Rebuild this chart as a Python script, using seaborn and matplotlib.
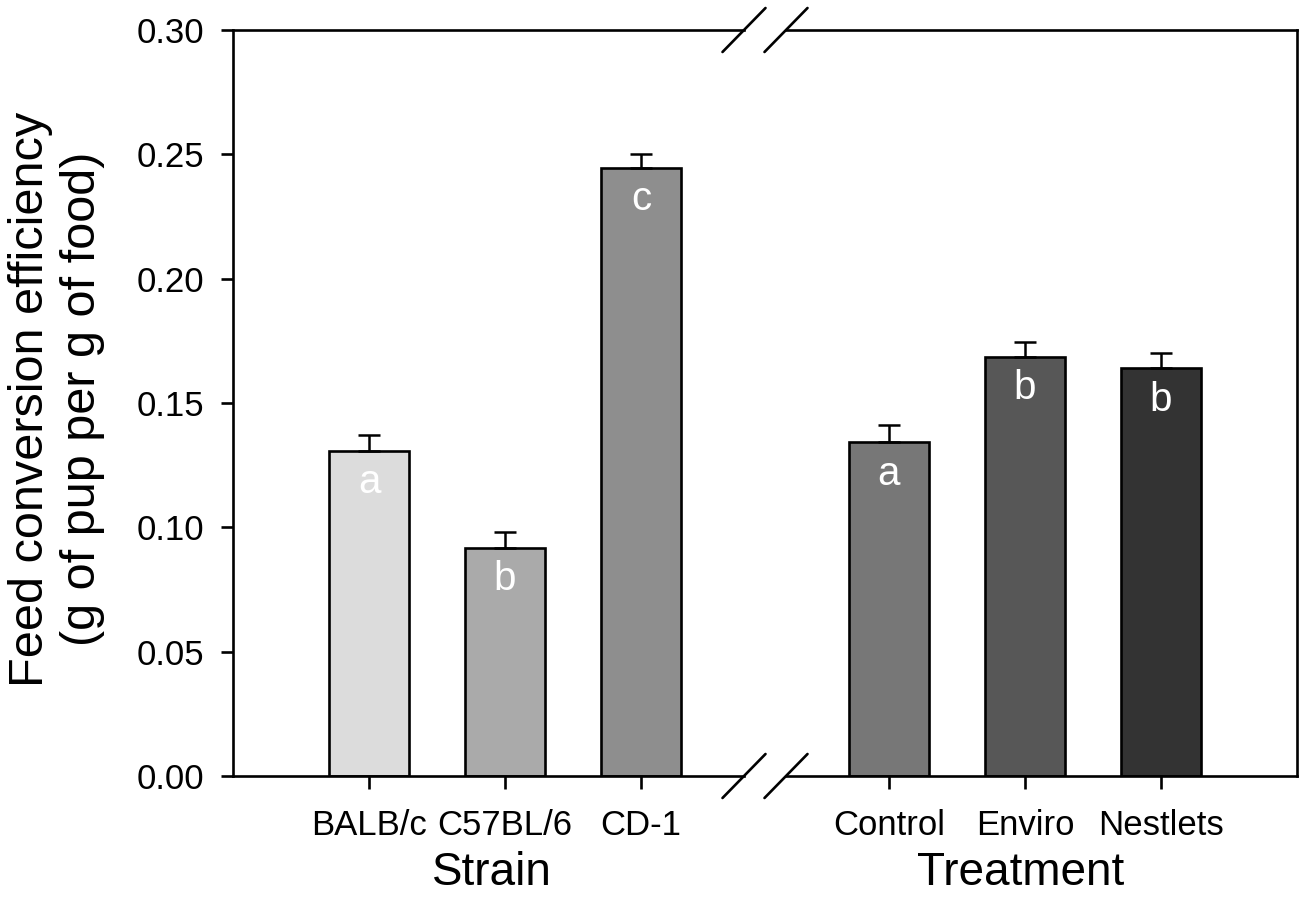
import numpy as np
import pandas as pd
import matplotlib
matplotlib.use('Agg')
import matplotlib.pyplot as plt
import seaborn as sns

# data
strains = ['BALB/c', 'C57BL/6', 'CD-1']
strain_fce = [0.1307, 0.0917, 0.2447]
strain_se = [0.0064, 0.0064, 0.0056]
strain_letters = ['a', 'b', 'c']
strain_colors = ['#dcdcdc', '#aaaaaa', '#8e8e8e']

treatments = ['Control', 'Enviro', 'Nestlets']
treat_fce = [0.1343, 0.1686, 0.1640]
treat_se = [0.0068, 0.0060, 0.0060]
treat_letters = ['a', 'b', 'b']
treat_colors = ['#777777', '#575757', '#333333']

yticks = [0.00, 0.05, 0.10, 0.15, 0.20, 0.25, 0.30]

sns.set_style('ticks')
plt.rcParams['font.family'] = ['Liberation Sans', 'DejaVu Sans']
plt.rcParams['axes.linewidth'] = 1.9
for key in ['text.color', 'axes.labelcolor', 'xtick.color', 'ytick.color', 'axes.edgecolor']:
    plt.rcParams[key] = 'black'

W, H = 1299, 917
fig = plt.figure(figsize=(W / 100, H / 100), dpi=100)
ax_l = fig.add_axes([233 / W, (H - 776) / H, (744 - 233) / W, 746 / H])
ax_r = fig.add_axes([786 / W, (H - 776) / H, (1297 - 786) / W, 746 / H])


def draw_panel(ax, cats, vals, errs, letters, colors):
    df = pd.DataFrame({'cat': cats, 'val': vals})
    sns.barplot(data=df, x='cat', y='val', hue='cat', palette=colors, legend=False,
                width=0.59, edgecolor='black', linewidth=1.9, errorbar=None,
                saturation=1, ax=ax)
    ax.errorbar(np.arange(len(cats)), vals, yerr=[np.zeros(len(vals)), errs],
                fmt='none', ecolor='black', elinewidth=1.8, capsize=8, capthick=1.8)
    for i, (v, lt) in enumerate(zip(vals, letters)):
        ax.annotate(lt, (i, v), xytext=(0, -9), textcoords='offset points',
                    ha='center', va='top', color='white', fontsize=29)
    ax.set_ylim(0, 0.30)
    ax.tick_params(axis='x', direction='out', length=9, width=1.9, pad=15, labelsize=25)
    ax.set_ylabel('')
    ax.set_xlabel('')


draw_panel(ax_l, strains, strain_fce, strain_se, strain_letters, strain_colors)
draw_panel(ax_r, treatments, treat_fce, treat_se, treat_letters, treat_colors)

ax_l.set_xlim(-1.0, 2.757)
ax_r.set_xlim(-0.757, 3.0)

ax_l.set_yticks(yticks)
ax_l.set_yticklabels([f'{t:.2f}' for t in yticks])
ax_l.tick_params(axis='y', direction='out', length=9, width=1.9, pad=12, labelsize=25)
ax_l.spines['right'].set_visible(False)
ax_r.spines['left'].set_visible(False)
ax_r.tick_params(axis='y', left=False, labelleft=False)

ax_l.set_ylabel('Feed conversion efficiency\n(g of pup per g of food)',
                fontsize=35, linespacing=1.2)
ax_l.yaxis.set_label_coords(-0.25, 0.505)

ax_l.set_xlabel('Strain', fontsize=33)
ax_l.xaxis.set_label_coords(0.507, -0.101)
ax_r.set_xlabel('Treatment', fontsize=33)
ax_r.xaxis.set_label_coords(0.46, -0.101)

# break marks on the x axis (top and bottom)
dx = 21.5 / 511
dy = 22 / 746
for ax, xe in [(ax_l, 1.0), (ax_r, 0.0)]:
    for ye in (0.0, 1.0):
        ax.plot([xe - dx, xe + dx], [ye - dy, ye + dy], transform=ax.transAxes,
                color='black', lw=1.9, clip_on=False)

fig.savefig('out.png', dpi=100)
